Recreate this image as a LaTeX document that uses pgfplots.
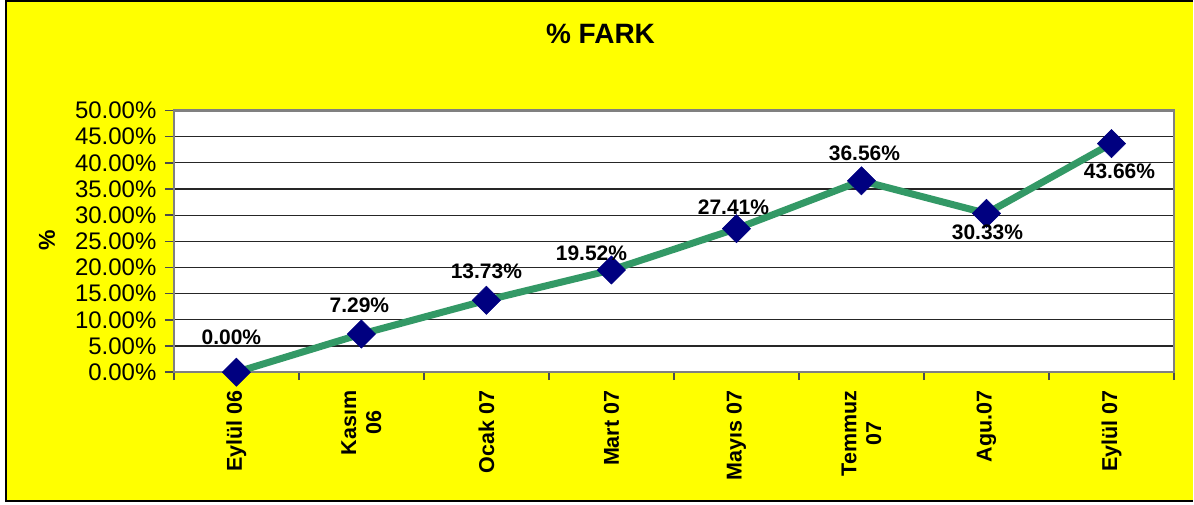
\documentclass[border=0pt]{standalone}
\usepackage{pgfplots}
\pgfplotsset{compat=1.18}
\usepackage{fontspec}
\setmainfont{Liberation Sans}
\definecolor{bgyellow}{RGB}{255,255,0}
\definecolor{linegreen}{RGB}{51,153,102}
\definecolor{navymark}{RGB}{0,0,128}
\definecolor{framegray}{RGB}{128,128,128}
\pgfplotstableread{
x y dx dy
0 0.00 -5 35
1 7.29 -2 29
2 13.73 0 29
3 19.52 -20 17
4 27.41 -3 21
5 36.56 3 28
6 30.33 1 -19
7 43.66 8 -28
}\fark
\begin{document}
\begin{tikzpicture}
\fill[white] (0pt,0pt) rectangle (1194pt,504pt);
\fill[bgyellow] (6.5pt,3pt) rectangle (1194pt,503.5pt);
\draw[black, line width=2pt] (1194pt,503.5pt) -- (6.5pt,503.5pt) -- (6.5pt,3pt) -- (1194pt,3pt);
\node[font=\fontsize{28}{30}\selectfont\bfseries] at (601pt,470.5pt) {\% FARK};
\node[rotate=90, font=\fontsize{23}{25}\selectfont\bfseries] at (47pt,264pt) {\%};
\begin{axis}[
  at={(174pt,132pt)}, anchor=south west, scale only axis,
  width=1001pt, height=262pt,
  xmin=-0.5, xmax=7.5, ymin=0, ymax=50,
  axis background/.style={fill=white},
  ytick={0,5,...,50},
  yticklabels={0.00\%,5.00\%,10.00\%,15.00\%,20.00\%,25.00\%,30.00\%,35.00\%,40.00\%,45.00\%,50.00\%},
  yticklabel style={font=\fontsize{24}{26}\selectfont, xshift=-5pt},
  xtick={0,...,7},
  xticklabels={Eylül 06,{Kasım\\06},Ocak 07,Mart 07,Mayıs 07,{Temmuz\\07},Agu.07,Eylül 07},
  xticklabel style={rotate=90, anchor=east, align=center, xshift=-6pt, font=\fontsize{21.5}{25}\selectfont\bfseries},
  xtick pos=left, ytick pos=left,
  major x tick style={draw=none},
  minor xtick={-0.5,0.5,...,7.5},
  ymajorgrids, grid style={black!85, line width=1.2pt},
  tick align=outside, major tick length=9pt, minor tick length=8pt,
  tick style={black!70, line width=1.5pt},
  axis line style={framegray, line width=2.5pt},
  clip=false,
]
\addplot[linegreen, line width=7pt, mark=square*, mark size=10pt,
  mark options={rotate=45, fill=navymark, draw=navymark, line width=0.5pt},
  visualization depends on={\thisrow{dx} \as \dx},
  visualization depends on={\thisrow{dy} \as \dy},
  nodes near coords={\pgfmathprintnumber[fixed,fixed zerofill,precision=2,assume math mode=true]{\pgfplotspointmeta}\%},
  every node near coord/.append style={anchor=center, xshift=\dx pt, yshift=\dy pt, black, font=\fontsize{21}{23}\selectfont\bfseries},
] table[x=x, y=y] {\fark};
\end{axis}
\end{tikzpicture}
\end{document}
